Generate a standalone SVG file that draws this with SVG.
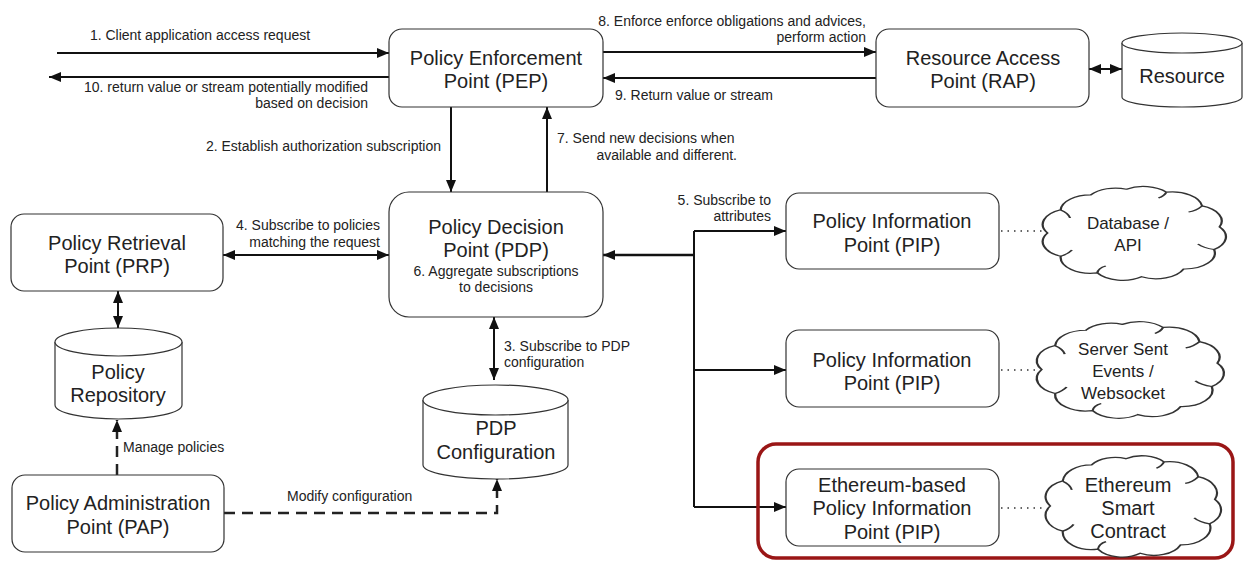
<svg xmlns="http://www.w3.org/2000/svg" width="1244" height="561" viewBox="0 0 1244 561">
<style>
.box{fill:#fff;stroke:#333;stroke-width:1.2}
.cyl{fill:#fff;stroke:#333;stroke-width:1.2}
.cloud{fill:#fff;stroke:#333;stroke-width:1.2}
.curl{fill:none;stroke:#333;stroke-width:1.2}
.t{font-family:"Liberation Sans",Arial,sans-serif;font-size:20px;fill:#222;text-anchor:middle}
.tc{font-family:"Liberation Sans",Arial,sans-serif;font-size:17px;fill:#222;text-anchor:middle}
.l{font-family:"Liberation Sans",Arial,sans-serif;font-size:14px;fill:#222}
.ln{fill:none;stroke:#111;stroke-width:2}
.dash{fill:none;stroke:#222;stroke-width:2.5;stroke-dasharray:11,7}
.dot{fill:none;stroke:#333;stroke-width:1.5;stroke-dasharray:1.5,5}
</style>
<defs>
<marker id="ah" viewBox="0 0 12 10" refX="12" refY="5" markerWidth="12" markerHeight="10" markerUnits="userSpaceOnUse" orient="auto-start-reverse">
<path d="M0,0 L12,5 L0,10 z" fill="#111"/>
</marker>
<path id="cloudShape" d="M4,50 A16,16 0 0 1 11,26.7 A16,16 0 0 1 27,11.9 A16,16 0 0 1 46,6.2 A16,16 0 0 1 67.2,9.2 A16,16 0 0 1 86.2,22.9 A16,16 0 0 1 95.5,43.9 A16,16 0 0 1 92.6,66.5 A16,16 0 0 1 76.4,86 A16,16 0 0 1 54,93.8 A16,16 0 0 1 30.5,89.9 A16,16 0 0 1 11,73.3 A16,16 0 0 1 4,50 Z"/>
<path id="curls" d="M11,27 Q15,30 16,35 M86.2,23 Q83,28 79,29 M92.6,66.5 Q87,65 84,61 M30.5,90 Q31,85 35,83 M67.2,9.2 Q66,13 63,15 M11,73.3 Q15,71 17,67"/>
</defs>

<g id="connectors">
<line class="ln" x1="57" y1="53" x2="389" y2="53" marker-end="url(#ah)"/>
<line class="ln" x1="389" y1="77" x2="49" y2="77" marker-end="url(#ah)"/>
<line class="ln" x1="603" y1="52" x2="876" y2="52" marker-end="url(#ah)"/>
<line class="ln" x1="876" y1="78" x2="603" y2="78" marker-end="url(#ah)"/>
<line class="ln" x1="1089" y1="69" x2="1122" y2="69" marker-start="url(#ah)" marker-end="url(#ah)"/>
<line class="ln" x1="451" y1="107" x2="451" y2="192" marker-end="url(#ah)"/>
<line class="ln" x1="547" y1="192" x2="547" y2="107" marker-end="url(#ah)"/>
<line class="ln" x1="223" y1="255" x2="389" y2="255" marker-start="url(#ah)" marker-end="url(#ah)"/>
<line class="ln" x1="494" y1="317" x2="494" y2="380" marker-start="url(#ah)" marker-end="url(#ah)"/>
<line class="ln" x1="118" y1="291" x2="118" y2="328" marker-start="url(#ah)" marker-end="url(#ah)"/>
<line class="ln" style="stroke-width:2.6" x1="694" y1="255" x2="603" y2="255" marker-end="url(#ah)"/>
<line class="ln" x1="694" y1="231" x2="694" y2="507"/>
<line class="ln" x1="694" y1="231" x2="786" y2="231" marker-end="url(#ah)"/>
<line class="ln" x1="694" y1="370" x2="786" y2="370" marker-end="url(#ah)"/>
<line class="ln" x1="694" y1="507" x2="786" y2="507" marker-end="url(#ah)"/>
<line class="dash" x1="117" y1="475" x2="117" y2="420" marker-end="url(#ah)"/>
<polyline class="dash" points="224,513 497,513 497,479" marker-end="url(#ah)"/>
<line class="dot" x1="1001" y1="231" x2="1042" y2="231"/>
<line class="dot" x1="1001" y1="370" x2="1037" y2="370"/>
<line class="dot" x1="1001" y1="508" x2="1046" y2="508"/>

<text class="l" x="200" y="40" text-anchor="middle">1. Client application access request</text>
<text class="l" x="368" y="92" text-anchor="end">10. return value or stream potentially modified</text>
<text class="l" x="368" y="108" text-anchor="end">based on decision</text>
<text class="l" x="866" y="26" text-anchor="end">8. Enforce enforce obligations and advices,</text>
<text class="l" x="866" y="42" text-anchor="end">perform action</text>
<text class="l" x="615" y="100">9. Return value or stream</text>
<text class="l" x="441" y="151" text-anchor="end">2. Establish authorization subscription</text>
<text class="l" x="557" y="143">7. Send new decisions when</text>
<text class="l" x="737" y="160" text-anchor="end">available and different.</text>
<text class="l" x="380" y="230" text-anchor="end">4. Subscribe to policies</text>
<text class="l" x="380" y="247" text-anchor="end">matching the request</text>
<text class="l" x="504" y="351">3. Subscribe to PDP</text>
<text class="l" x="504" y="367">configuration</text>
<text class="l" x="771" y="205" text-anchor="end">5. Subscribe to</text>
<text class="l" x="771" y="221" text-anchor="end">attributes</text>
<text class="l" x="123" y="452">Manage policies</text>
<text class="l" x="287" y="501">Modify configuration</text>
</g>

<g id="highlight">
<rect x="758" y="444" width="475" height="114" rx="18" fill="none" stroke="#9a1616" stroke-width="3.5"/>
</g>

<g id="pep">
<rect class="box" x="389" y="29" width="214" height="78" rx="13"/>
<text class="t" x="496" y="65">Policy Enforcement</text>
<text class="t" x="496" y="88">Point (PEP)</text>
</g>

<g id="rap">
<rect class="box" x="876" y="29" width="213" height="78" rx="13"/>
<text class="t" x="983" y="65">Resource Access</text>
<text class="t" x="983" y="88">Point (RAP)</text>
</g>

<g id="resource">
<path class="cyl" d="M1122,43 A60,10 0 0 1 1242,43 L1242,97 A60,10 0 0 1 1122,97 Z"/>
<path class="cyl" fill="none" d="M1122,43 A60,10 0 0 0 1242,43"/>
<text class="t" x="1182" y="83">Resource</text>
</g>

<g id="pdp">
<rect class="box" x="389" y="192" width="214" height="125" rx="20"/>
<text class="t" x="496" y="234">Policy Decision</text>
<text class="t" x="496" y="257">Point (PDP)</text>
<text class="l" x="496" y="276" text-anchor="middle">6. Aggregate subscriptions</text>
<text class="l" x="496" y="292" text-anchor="middle">to decisions</text>
</g>

<g id="prp">
<rect class="box" x="11" y="214" width="212" height="77" rx="13"/>
<text class="t" x="117" y="250">Policy Retrieval</text>
<text class="t" x="117" y="273">Point (PRP)</text>
</g>

<g id="policy-repository">
<path class="cyl" d="M55,342 A63.5,14 0 0 1 182,342 L182,405 A63.5,14 0 0 1 55,405 Z"/>
<path class="cyl" fill="none" d="M55,342 A63.5,14 0 0 0 182,342"/>
<text class="t" x="118" y="379">Policy</text>
<text class="t" x="118" y="402">Repository</text>
</g>

<g id="pap">
<rect class="box" x="12" y="475" width="212" height="77" rx="13"/>
<text class="t" x="118" y="510">Policy Administration</text>
<text class="t" x="118" y="534">Point (PAP)</text>
</g>

<g id="pdp-configuration">
<path class="cyl" d="M423,400 A72.5,15 0 0 1 568,400 L568,465 A72.5,14 0 0 1 423,465 Z"/>
<path class="cyl" fill="none" d="M423,400 A72.5,15 0 0 0 568,400"/>
<text class="t" x="496" y="435">PDP</text>
<text class="t" x="496" y="459">Configuration</text>
</g>

<g id="pip1">
<rect class="box" x="786" y="193" width="213" height="76" rx="13"/>
<text class="t" x="892" y="228">Policy Information</text>
<text class="t" x="892" y="252">Point (PIP)</text>
</g>

<g id="cloud-database">
<g transform="translate(1040,183) scale(1.88,1.0)">
<use href="#cloudShape" class="cloud" vector-effect="non-scaling-stroke"/>
<use href="#curls" class="curl" vector-effect="non-scaling-stroke"/>
</g>
<text class="tc" x="1128" y="229">Database /</text>
<text class="tc" x="1128" y="251">API</text>
</g>

<g id="pip2">
<rect class="box" x="786" y="330" width="213" height="77" rx="13"/>
<text class="t" x="892" y="367">Policy Information</text>
<text class="t" x="892" y="390">Point (PIP)</text>
</g>

<g id="cloud-sse">
<g transform="translate(1034,318) scale(1.92,1.03)">
<use href="#cloudShape" class="cloud" vector-effect="non-scaling-stroke"/>
<use href="#curls" class="curl" vector-effect="non-scaling-stroke"/>
</g>
<text class="tc" x="1123" y="355">Server Sent</text>
<text class="tc" x="1123" y="377">Events /</text>
<text class="tc" x="1123" y="399">Websocket</text>
</g>

<g id="eth-pip">
<rect class="box" x="786" y="469" width="213" height="77" rx="13"/>
<text class="t" x="892" y="492">Ethereum-based</text>
<text class="t" x="892" y="515">Policy Information</text>
<text class="t" x="892" y="539">Point (PIP)</text>
</g>

<g id="cloud-ethereum">
<g transform="translate(1043,452) scale(1.80,1.08)">
<use href="#cloudShape" class="cloud" vector-effect="non-scaling-stroke"/>
<use href="#curls" class="curl" vector-effect="non-scaling-stroke"/>
</g>
<text class="t" x="1128" y="492">Ethereum</text>
<text class="t" x="1128" y="515">Smart</text>
<text class="t" x="1128" y="538">Contract</text>
</g>
</svg>
